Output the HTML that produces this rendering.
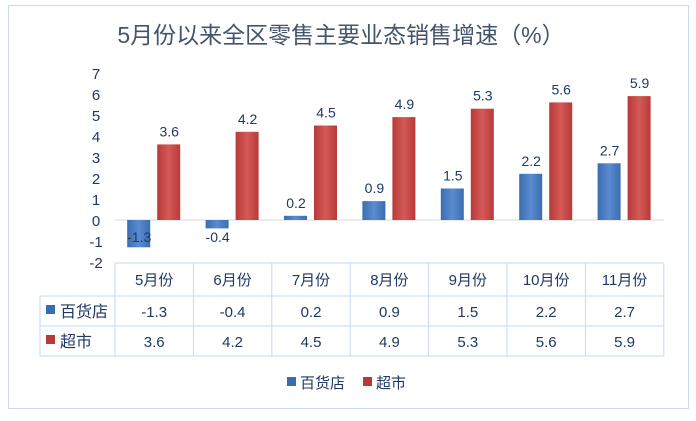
<!DOCTYPE html><html><head><meta charset="utf-8"><style>
body{margin:0;background:#fff;width:696px;height:416px;overflow:hidden;font-family:"Liberation Sans","Noto Sans CJK SC",sans-serif}
</style></head><body>
<svg width="696" height="416" xmlns="http://www.w3.org/2000/svg" font-family="Liberation Sans, Noto Sans CJK SC, sans-serif">
<defs>
<linearGradient id="gb" x1="0" x2="1"><stop offset="0" stop-color="#3a6db0"/><stop offset="0.5" stop-color="#5b8bd0"/><stop offset="1" stop-color="#3a6db0"/></linearGradient>
<linearGradient id="gr" x1="0" x2="1"><stop offset="0" stop-color="#b83a38"/><stop offset="0.5" stop-color="#d45a57"/><stop offset="1" stop-color="#b83a38"/></linearGradient>
</defs>
<rect x="8.5" y="5.5" width="680" height="403" fill="#fff" stroke="#c6d9f0"/>
<text x="341" y="43" text-anchor="middle" font-size="23" fill="#44546a">5月份以来全区零售主要业态销售增速（%）</text>
<g id="plot"></g>
</svg>
<script>
const categories=["5月份","6月份","7月份","8月份","9月份","10月份","11月份"];
const dept=[-1.3,-0.4,0.2,0.9,1.5,2.2,2.7];
const superm=[3.6,4.2,4.5,4.9,5.3,5.6,5.9];
const ticks=[7,6,5,4,3,2,1,0,-1,-2];
const NS="http://www.w3.org/2000/svg";
const g=document.getElementById('plot');
const x0=115,cw=78.4,yz=220,unit=21;
const Y=v=>yz-v*unit;
const cx=i=>x0+cw*i+cw/2;
function mk(t,a,txt){const e=document.createElementNS(NS,t);for(const k in a)e.setAttribute(k,a[k]);if(txt!==undefined)e.textContent=txt;g.appendChild(e);return e;}
ticks.forEach(t=>{const e=mk('text',{x:96,y:Y(t)+6,'text-anchor':'middle','font-size':15,fill:'#1f3864'},String(t));

});
const zl=mk('line',{x1:x0,x2:x0+cw*7,y1:yz,y2:yz,stroke:'#d9d9d9'});


categories.forEach((c,i)=>{
 const v=dept[i],top=Math.min(Y(v),yz),h=Math.abs(Y(v)-yz);
 const b=mk('rect',{x:cx(i)-27,y:top,width:23,height:h,fill:'url(#gb)'});
 
 
 const ly=v>=0?Y(v)-8:yz+22;
 const l=mk('text',{x:cx(i)-15,y:ly,'text-anchor':'middle','font-size':14,fill:'#1f3864'},String(v));
 
 
 const s=superm[i];
 const r=mk('rect',{x:cx(i)+3,y:Y(s),width:23,height:yz-Y(s),fill:'url(#gr)'});
 
 
 const l2=mk('text',{x:cx(i)+15,y:Y(s)-8,'text-anchor':'middle','font-size':14,fill:'#1f3864'},String(s));
 
 
});
const tc='#c6d9f0',xr=x0+cw*7;
mk('line',{x1:x0,x2:xr,y1:263,y2:263,stroke:tc});
[296,326,356].forEach(y=>mk('line',{x1:40,x2:xr,y1:y,y2:y,stroke:tc}));
mk('line',{x1:40,x2:40,y1:296,y2:356,stroke:tc});
for(let i=0;i<=7;i++)mk('line',{x1:x0+cw*i,x2:x0+cw*i,y1:263,y2:356,stroke:tc});
categories.forEach((c,i)=>{
 const t=mk('text',{x:cx(i),y:285,'text-anchor':'middle','font-size':15,fill:'#1f3864'},c);
 
 
 const a=mk('text',{x:cx(i),y:317,'text-anchor':'middle','font-size':15,fill:'#1f3864'},String(dept[i]));
 
 
 const b=mk('text',{x:cx(i),y:347,'text-anchor':'middle','font-size':15,fill:'#1f3864'},String(superm[i]));
 
 
});
mk('rect',{x:46,y:305,width:9,height:9,fill:'#3a6db0'});
const r1=mk('text',{x:60,y:317,'font-size':16,fill:'#1f3864'},'百货店');


mk('rect',{x:46,y:335,width:9,height:9,fill:'#b83a38'});
const r2=mk('text',{x:60,y:347,'font-size':16,fill:'#1f3864'},'超市');


mk('rect',{x:287,y:377,width:9,height:9,fill:'#3a6db0'});
const lg1=mk('text',{x:300,y:388,'font-size':15,fill:'#1f3864'},'百货店');


mk('rect',{x:363,y:377,width:9,height:9,fill:'#b83a38'});
const lg2=mk('text',{x:376,y:388,'font-size':15,fill:'#1f3864'},'超市');


</script>
</body></html>
